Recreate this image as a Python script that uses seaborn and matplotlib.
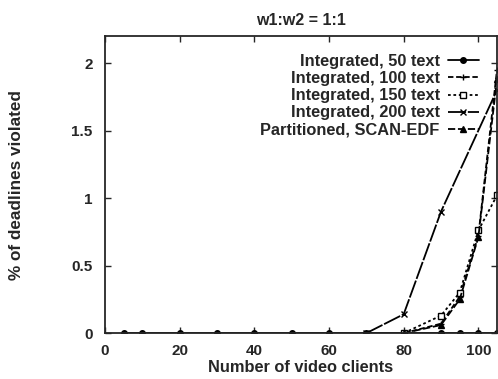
import matplotlib
matplotlib.use("Agg")
import matplotlib.pyplot as plt
import seaborn as sns
import pandas as pd

sns.set_style("ticks")
plt.rcParams['font.family'] = ['Liberation Sans', 'DejaVu Sans']

title = "w1:w2 = 1:1"
xlabel = "Number of video clients"
ylabel = "% of deadlines violated"

x50 = [5, 10, 20, 30, 40, 50, 60, 70, 80, 90, 95, 100, 105]
y50 = [0, 0, 0, 0, 0, 0, 0, 0, 0, 0, 0, 0, 0]
x100 = [80, 90, 95, 100, 105]
y100 = [0, 0.07, 0.27, 0.72, 1.95]
x150 = [80, 90, 95, 100, 105]
y150 = [0, 0.13, 0.30, 0.76, 1.02]
x200 = [70, 80, 90, 105]
y200 = [0, 0.14, 0.90, 1.80]
xpart = [80, 90, 95, 100, 105]
ypart = [0, 0.06, 0.25, 0.71, 1.88]

labels = ["Integrated, 50 text", "Integrated, 100 text", "Integrated, 150 text",
          "Integrated, 200 text", "Partitioned, SCAN-EDF"]
xs = [x50, x100, x150, x200, xpart]
ys = [y50, y100, y150, y200, ypart]
styles = [
    dict(linestyle="-", marker="o", markersize=4, markerfacecolor="black"),
    dict(linestyle=(0, (3, 1.5)), marker="+", markersize=4, markerfacecolor="black"),
    dict(linestyle=(0, (1.5, 1.5)), marker="s", markersize=4, markerfacecolor="white"),
    dict(linestyle=(0, (10, 1)), marker="x", markersize=4, markerfacecolor="black"),
    dict(linestyle=(0, (4, 1.5)), marker="^", markersize=4, markerfacecolor="black"),
]

fig = plt.figure(figsize=(4.98, 3.79), dpi=100)
ax = fig.add_axes([0.211, 0.121, 0.787, 0.784])

for lab, xv, yv, st in zip(labels, xs, ys, styles):
    df = pd.DataFrame({"x": xv, "y": yv})
    sns.lineplot(data=df, x="x", y="y", ax=ax, color="black", linewidth=1.3,
                 markeredgecolor="black", markeredgewidth=1.0, label=lab, **st)

ax.set_xlim(0, 105)
ax.set_ylim(0, 2.2)
ax.set_xticks([0, 20, 40, 60, 80, 100])
ax.set_yticks([0, 0.5, 1, 1.5, 2])
ax.set_yticklabels(["0", "0.5", "1", "1.5", "2"])
ax.tick_params(direction="in", top=True, right=True, length=4, width=1,
               labelsize=11)
ax.tick_params(axis="x", pad=8)
ax.tick_params(axis="y", pad=9)
for lbl in ax.get_xticklabels() + ax.get_yticklabels():
    lbl.set_fontweight("bold")
for s in ax.spines.values():
    s.set_linewidth(1.3)
    s.set_visible(True)

ax.set_title(title, fontsize=11.5, fontweight="bold", pad=8)
ax.set_xlabel(xlabel, fontsize=11.8, fontweight="bold", labelpad=1)
ax.set_ylabel(ylabel, fontsize=12.3, fontweight="bold", labelpad=34)

leg = ax.legend(loc="upper right", frameon=False, markerfirst=False,
                fontsize=11.8, handlelength=1.9, labelspacing=0.13,
                borderaxespad=0.7, handletextpad=0.5, borderpad=0.4)
for t in leg.get_texts():
    t.set_fontweight("bold")

fig.savefig("out.png", dpi=100)
